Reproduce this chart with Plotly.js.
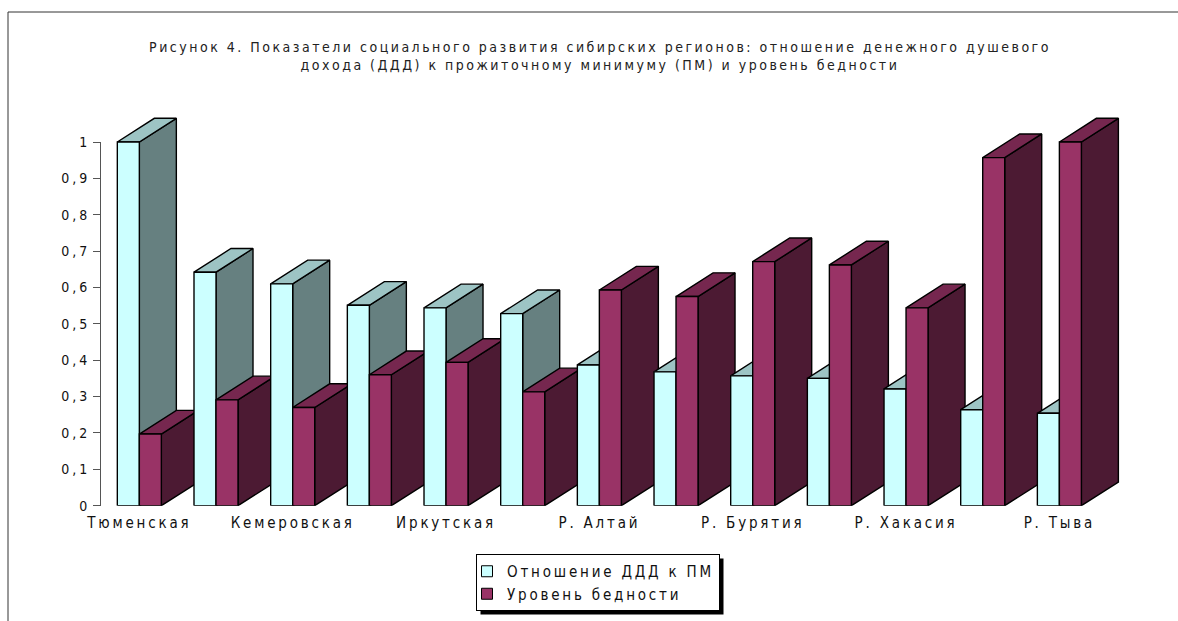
<!DOCTYPE html>
<html>
<head>
<meta charset="utf-8">
<script src="https://cdn.plot.ly/plotly-3.0.1.min.js"></script>
<style>
  html, body { margin: 0; padding: 0; background: #fff; }
  #chart { width: 1178px; height: 621px; }
  .gtitle { letter-spacing: 2.5px; }
  .xtick text { letter-spacing: 2.8px; }
  .ytick text { letter-spacing: 3px; }
  .legendtext { letter-spacing: 2.8px; }
</style>
</head>
<body>
<div id="chart"></div>
<script>
// ---- data ----
const regions = ['Тюменская', 'Томская', 'Кемеровская', 'Красноярский край', 'Иркутская',
  'Новосибирская', 'Р. Алтай', 'Омская', 'Р. Бурятия', 'Алтайский край', 'Р. Хакасия',
  'Читинская', 'Р. Тыва'];
const incomeRatio = [1.0, 0.642, 0.61, 0.551, 0.544, 0.528, 0.387, 0.368, 0.357, 0.35, 0.321, 0.264, 0.254];
const povertyLevel = [0.197, 0.291, 0.27, 0.36, 0.394, 0.313, 0.593, 0.575, 0.671, 0.662, 0.544, 0.957, 1.0];
const seriesNames = ['Отношение ДДД к ПМ', 'Уровень бедности'];
const yTickVals = [0, 0.1, 0.2, 0.3, 0.4, 0.5, 0.6, 0.7, 0.8, 0.9, 1];
const yTickText = ['0', '0,1', '0,2', '0,3', '0,4', '0,5', '0,6', '0,7', '0,8', '0,9', '1'];
const titleText = 'Рисунок 4. Показатели социального развития сибирских регионов: отношение денежного душевого<br>дохода (ДДД) к прожиточному минимуму (ПМ) и уровень бедности';

// ---- geometry / style ----
const W = 1178, H = 621;
const px0 = 101, pxPerCat = 76.67;     // x axis start and category width (px)
const py0 = 505.7, pyPerUnit = 363.7;  // y zero and px per unit
const drawRightPx = 1145, drawTopPx = 100;
const barW = 0.287;                     // bar width in category units
const depthX = 37 / pxPerCat;           // 3D depth offset (category units)
const depthY = 23.7 / pyPerUnit;        // 3D depth offset (value units)
const FONT = '"Liberation Sans Narrow", "DejaVu Sans Condensed", "Arial Narrow", sans-serif';
const colors = [
  { front: '#CCFFFF', top: '#9DC4C4', side: '#668080' },
  { front: '#993366', top: '#76274F', side: '#4C1A33' }
];

const nCat = regions.length;
const xDomain1 = [px0 / W, (px0 + nCat * pxPerCat) / W];
const yDomain1 = [1 - py0 / H, 1 - (py0 - pyPerUnit) / H];
const xDomain2 = [px0 / W, drawRightPx / W];
const yDomain2 = [1 - py0 / H, 1 - drawTopPx / H];
const xRange2 = [0, (drawRightPx - px0) / pxPerCat];
const yRange2 = [0, (py0 - drawTopPx) / pyPerUnit];

function face(xs, ys, color) {
  return {
    type: 'scatter', mode: 'lines', fill: 'toself', fillcolor: color,
    x: xs.concat([xs[0]]), y: ys.concat([ys[0]]),
    line: { color: '#000', width: 1.4 },
    xaxis: 'x2', yaxis: 'y2', hoverinfo: 'skip', showlegend: false
  };
}

const traces = [];
const seriesVals = [incomeRatio, povertyLevel];
for (let i = 0; i < nCat; i++) {
  const c = i + 0.5;
  for (let s = 0; s < 2; s++) {
    const v = seriesVals[s][i];
    const xl = s === 0 ? c - barW : c;
    const xr = xl + barW;
    const col = colors[s];
    traces.push(face([xr, xr + depthX, xr + depthX, xr], [0, depthY, v + depthY, v], col.side));
    traces.push(face([xl, xr, xr + depthX, xl + depthX], [v, v, v + depthY, v + depthY], col.top));
    traces.push(face([xl, xr, xr, xl], [0, 0, v, v], col.front));
  }
}
for (let s = 0; s < 2; s++) {
  traces.push({
    type: 'scatter', mode: 'markers', x: [null], y: [null], name: seriesNames[s],
    marker: { symbol: 'square', size: 11, color: colors[s].front, line: { color: '#000', width: 1 } },
    xaxis: 'x', yaxis: 'y', showlegend: true, hoverinfo: 'skip'
  });
}

const xTickVals = [], xTickText = [];
regions.forEach((r, i) => { if (i % 2 === 0) { xTickVals.push(i + 0.5); xTickText.push(r); } });

const layout = {
  width: W, height: H,
  margin: { l: 0, r: 0, t: 0, b: 0 },
  paper_bgcolor: '#fff', plot_bgcolor: 'rgba(0,0,0,0)',
  font: { family: FONT, size: 14, color: '#111' },
  title: {
    text: titleText, x: 600 / W, xanchor: 'center', y: 1 - 52 / H, yanchor: 'top',
    font: { family: FONT, size: 14, color: '#222' }
  },
  xaxis: {
    domain: xDomain1, range: [0, nCat], showgrid: false, zeroline: false, showline: false,
    tickmode: 'array', tickvals: xTickVals, ticktext: xTickText, ticks: '', ticklabelstandoff: 6,
    tickfont: { family: FONT, size: 15, color: '#111' }, fixedrange: true
  },
  yaxis: {
    domain: yDomain1, range: [0, 1], showgrid: false, zeroline: false, showline: true,
    linecolor: '#555', linewidth: 1, ticks: 'outside', ticklen: 7, tickcolor: '#555',
    tickmode: 'array', tickvals: yTickVals, ticktext: yTickText,
    tickfont: { family: FONT, size: 14, color: '#111' }, fixedrange: true
  },
  xaxis2: { domain: xDomain2, range: xRange2, visible: false, anchor: 'y2', fixedrange: true },
  yaxis2: { domain: yDomain2, range: yRange2, visible: false, anchor: 'x2', fixedrange: true },
  showlegend: true,
  legend: {
    x: 476 / W, xanchor: 'left', y: 1 - 554 / H, yanchor: 'top',
    bgcolor: '#fff', bordercolor: '#000', borderwidth: 1, indentation: -10,
    font: { family: FONT, size: 15, color: '#111' },
    itemclick: false, itemdoubleclick: false
  },
  shapes: [
    { type: 'rect', xref: 'paper', yref: 'paper', x0: 8 / W, x1: 1.05, y0: 1 - 12 / H, y1: -0.05,
      line: { color: '#333', width: 1 }, fillcolor: 'rgba(0,0,0,0)', layer: 'below' }
  ]
};

Plotly.newPlot('chart', traces, layout, { staticPlot: true, displayModeBar: false }).then(function (gd) {
  const bg = gd.querySelector('.legend .bg');
  if (bg) {
    const r = bg.getBoundingClientRect();
    const c = gd.getBoundingClientRect();
    const x0 = r.left - c.left + 4, x1 = r.right - c.left + 4;
    const y0 = r.top - c.top + 4, y1 = r.bottom - c.top + 4;
    const shapes = layout.shapes.concat([{
      type: 'rect', xref: 'paper', yref: 'paper', x0: x0 / W, x1: x1 / W, y0: 1 - y0 / H, y1: 1 - y1 / H,
      line: { width: 0 }, fillcolor: '#000', layer: 'above'
    }]);
    Plotly.relayout(gd, { shapes: shapes });
  }
});
</script>
</body>
</html>
